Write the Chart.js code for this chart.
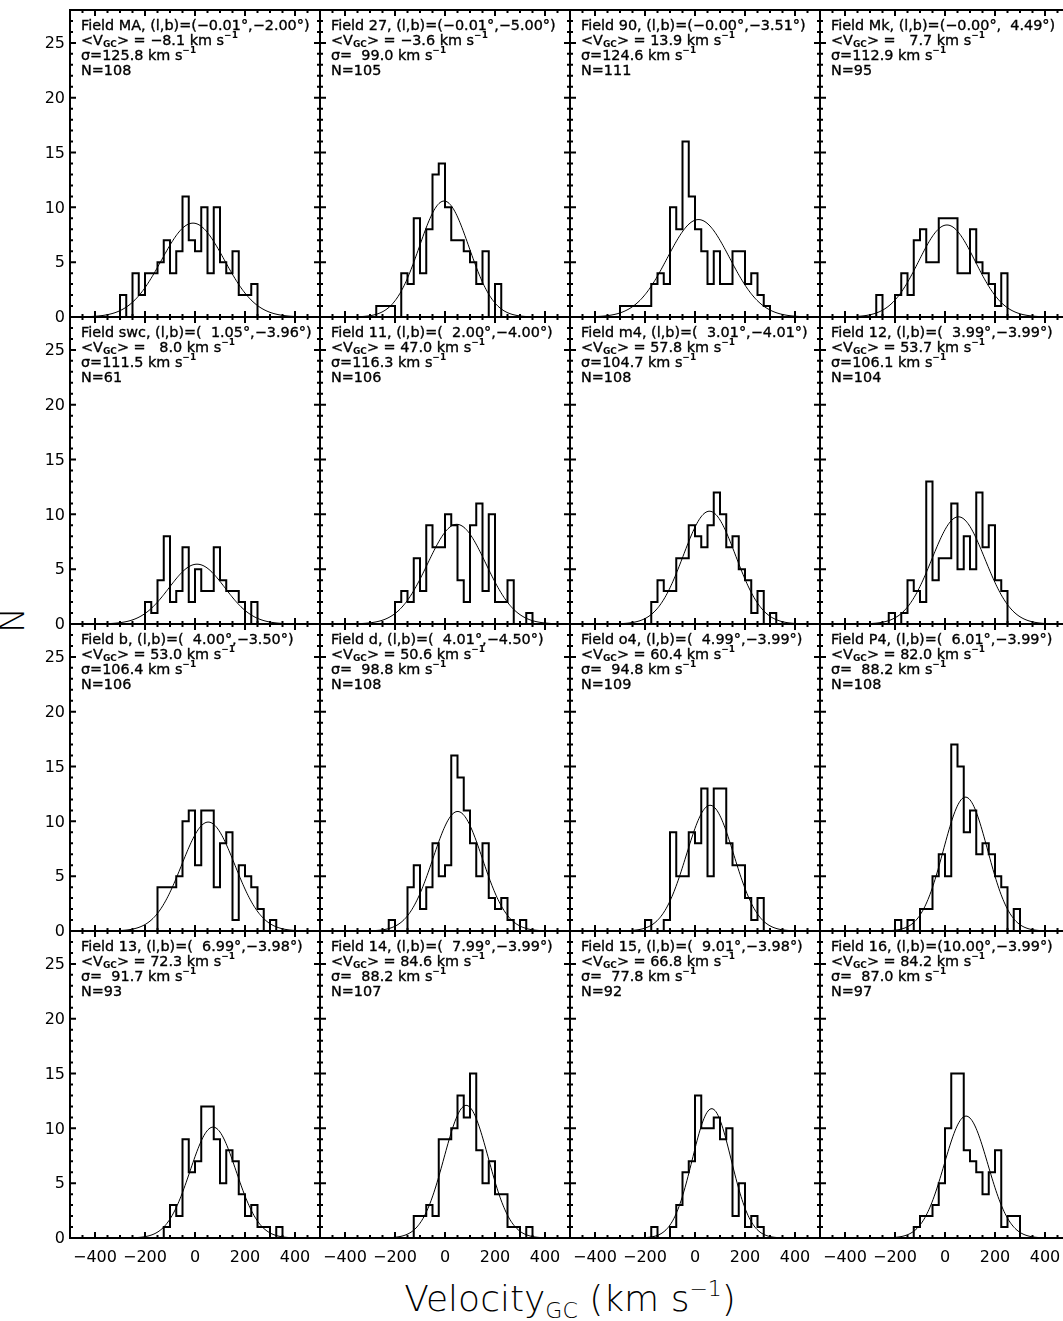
<!DOCTYPE html>
<html>
<head>
<meta charset="utf-8">
<script src="https://cdn.jsdelivr.net/npm/chart.js@4.4.1/dist/chart.umd.min.js"></script>
<style>
  html, body { margin: 0; padding: 0; background: #fff; overflow: hidden; }
  #page { position: relative; width: 1063px; height: 1321px; overflow: hidden; background: #fff; }
  #page canvas { position: absolute; }
  #ytitle { position: absolute; left: -8px; top: 600px; width: 40px; text-align: center;
            font: 200 34px "DejaVu Sans"; transform: rotate(-90deg); }
  #xtitle { position: absolute; left: 70px; width: 1000px; top: 1276px; text-align: center;
            font: 200 36px "DejaVu Sans"; white-space: nowrap; }
  #xtitle sub { font-size: 22px; vertical-align: -7px; }
  #xtitle sup { font-size: 22px; vertical-align: 15px; }
</style>
</head>
<body>
<div id="page">
  <div id="ytitle">N</div>
  <div id="xtitle">Velocity<sub>GC</sub> (km s<sup>−1</sup>)</div>
</div>
<script>
// fields, in reading order (4 x 4 grid)
const fieldNames = ['MA', '27', '90', 'Mk', 'swc', '11', 'm4', '12', 'b', 'd', 'o4', 'P4', '13', '14', '15', '16'];
const galL = ['-0.01', '-0.01', '-0.00', '-0.00', ' 1.05', ' 2.00', ' 3.01', ' 3.99',
              ' 4.00', ' 4.01', ' 4.99', ' 6.01', ' 6.99', ' 7.99', ' 9.01', '10.00'];
const galB = ['-2.00', '-5.00', '-3.51', ' 4.49', '-3.96', '-4.00', '-4.01', '-3.99',
              '-3.50', '-4.50', '-3.99', '-3.99', '-3.98', '-3.99', '-3.98', '-3.99'];
const meanV = [-8.1, -3.6, 13.9, 7.7, 8.0, 47.0, 57.8, 53.7, 53.0, 50.6, 60.4, 82.0, 72.3, 84.6, 66.8, 84.2];
const sigmaV = [125.8, 99.0, 124.6, 112.9, 111.5, 116.3, 104.7, 106.1, 106.4, 98.8, 94.8, 88.2, 91.7, 88.2, 77.8, 87.0];
const nStars = [108, 105, 111, 95, 61, 106, 108, 104, 106, 108, 109, 108, 93, 107, 92, 97];

// histograms: 25 km/s bins, starting at firstBin
const binWidth = 25;
const firstBin = [-300, -275, -300, -275, -200, -200, -175, -225, -150, -225, -200, -200, -125, -125, -175, -125];
const counts = [
  [2, 0, 4, 2, 4, 4, 5, 7, 4, 6, 11, 7, 6, 10, 4, 10, 5, 4, 6, 2, 2, 3],
  [1, 1, 1, 0, 4, 3, 9, 4, 8, 13, 14, 10, 7, 7, 6, 5, 3, 6, 0, 3],
  [1, 1, 1, 1, 1, 3, 4, 3, 10, 8, 16, 11, 8, 6, 3, 6, 3, 3, 6, 6, 3, 4, 2, 1],
  [2, 0, 0, 2, 4, 2, 7, 8, 5, 5, 9, 9, 9, 4, 4, 8, 5, 4, 3, 1, 4],
  [2, 1, 4, 8, 2, 3, 7, 2, 5, 3, 3, 7, 4, 3, 3, 2, 0, 2],
  [2, 3, 2, 6, 3, 9, 7, 7, 10, 9, 4, 2, 9, 11, 3, 10, 2, 2, 4, 0, 0, 1],
  [2, 4, 3, 3, 6, 6, 9, 8, 7, 9, 12, 10, 7, 8, 5, 4, 1, 3, 0, 1],
  [1, 0, 1, 4, 3, 2, 13, 4, 6, 6, 11, 5, 8, 5, 12, 7, 9, 4, 3],
  [4, 4, 4, 5, 10, 11, 6, 11, 11, 4, 8, 9, 1, 6, 5, 4, 2, 0, 1],
  [1, 0, 0, 4, 6, 2, 4, 8, 5, 6, 16, 14, 11, 8, 5, 8, 3, 2, 3, 1, 0, 1],
  [1, 0, 0, 1, 9, 5, 5, 9, 8, 13, 5, 13, 13, 8, 6, 6, 3, 1, 3],
  [1, 0, 1, 0, 2, 2, 5, 7, 5, 17, 15, 9, 11, 7, 8, 7, 5, 4, 0, 2],
  [1, 3, 2, 9, 6, 7, 12, 12, 9, 5, 8, 7, 4, 2, 3, 1, 1, 0, 1],
  [2, 2, 3, 2, 9, 9, 10, 13, 11, 15, 8, 5, 7, 4, 4, 1, 1, 0, 1],
  [1, 0, 0, 1, 3, 6, 7, 13, 10, 10, 11, 9, 10, 2, 5, 1, 2, 1],
  [1, 2, 2, 3, 5, 10, 15, 15, 8, 7, 6, 4, 6, 8, 1, 2, 2]
];

const xTicks = [-400, -200, 0, 200, 400];
const yTicks = [0, 5, 10, 15, 20, 25];

// grid geometry
const colLeft = [70, 320, 570, 820];
const rowTop = [10, 317, 624, 931];
const panelW = 250, panelH = 307, pad = 60;

const minus = s => s.replace(/-/g, '\u2212');
const fig = (s, w) => s.padStart(w, '\u2007');

// text runs with IDL-style sub/superscripts; a thin stroke thickens the glyphs a little
function drawRuns(ctx, x, y, runs) {
  ctx.lineWidth = 0.35;
  for (const [txt, kind] of runs) {
    let dy = 0;
    if (kind === 'sub') { ctx.font = 'bold 9px "DejaVu Sans"'; dy = 4; }
    else if (kind === 'sup') { ctx.font = 'bold 9px "DejaVu Sans"'; dy = -5; }
    else ctx.font = '14.4px "DejaVu Sans"';
    ctx.fillText(txt, x, y + dy);
    if (!kind) ctx.strokeText(txt, x, y + dy);
    x += ctx.measureText(txt).width;
  }
}

const panelFrame = {
  id: 'panelFrame',
  afterDraw(chart, args, opts) {
    const { ctx, chartArea: a, scales: { x, y } } = chart;
    const i = opts.idx;
    ctx.save();
    ctx.strokeStyle = '#000';
    ctx.fillStyle = '#000';
    ctx.lineWidth = 2;
    ctx.strokeRect(a.left, a.top, a.right - a.left, a.bottom - a.top);

    // inward ticks on all four sides
    ctx.beginPath();
    for (let v = x.min; v <= x.max; v += 50) {
      const px = x.getPixelForValue(v);
      const len = xTicks.includes(v) ? 6 : 3;
      ctx.moveTo(px, a.bottom); ctx.lineTo(px, a.bottom - len);
      ctx.moveTo(px, a.top); ctx.lineTo(px, a.top + len);
    }
    for (let v = y.min; v <= y.max; v += 1) {
      const py = y.getPixelForValue(v);
      const len = yTicks.includes(v) ? 6 : 3;
      ctx.moveTo(a.left, py); ctx.lineTo(a.left + len, py);
      ctx.moveTo(a.right, py); ctx.lineTo(a.right - len, py);
    }
    ctx.stroke();

    // tick labels on the outer panels only
    ctx.font = '16px "DejaVu Sans"';
    if (opts.yLabels) {
      ctx.textAlign = 'right';
      ctx.textBaseline = 'middle';
      yTicks.forEach(v => ctx.fillText(String(v), a.left - 5, y.getPixelForValue(v) + 1));
    }
    if (opts.xLabels) {
      ctx.textAlign = 'center';
      ctx.textBaseline = 'middle';
      xTicks.forEach(v => ctx.fillText(minus(String(v)), x.getPixelForValue(v), a.bottom + 20));
    }

    // field annotation
    ctx.textAlign = 'left';
    ctx.textBaseline = 'middle';
    const tx = a.left + 11;
    drawRuns(ctx, tx, a.top + 16, [['Field ' + fieldNames[i] + ', (l,b)=(' +
      minus(galL[i]).replace(' ', '\u2007') + '°,' + minus(galB[i]).replace(' ', '\u2007') + '°)']]);
    drawRuns(ctx, tx, a.top + 31, [['<V'], ['GC', 'sub'],
      ['> = ' + fig(minus(meanV[i].toFixed(1)), 4) + ' km s'], ['\u22121', 'sup']]);
    drawRuns(ctx, tx, a.top + 46, [['\u03c3=' + fig(sigmaV[i].toFixed(1), 5) + ' km s'], ['\u22121', 'sup']]);
    drawRuns(ctx, tx, a.top + 61, [['N=' + nStars[i]]]);
    ctx.restore();
  }
};

const page = document.getElementById('page');

for (let i = 0; i < 16; i++) {
  const col = i % 4, row = Math.floor(i / 4);
  const cv = document.createElement('canvas');
  cv.width = panelW + 2 * pad;
  cv.height = panelH + 2 * pad;
  cv.style.left = (colLeft[col] - pad) + 'px';
  cv.style.top = (rowTop[row] - pad) + 'px';
  page.appendChild(cv);

  // step outline of the histogram
  const hist = [{ x: firstBin[i], y: 0 }];
  counts[i].forEach((c, k) => hist.push({ x: firstBin[i] + k * binWidth, y: c }));
  hist.push({ x: firstBin[i] + counts[i].length * binWidth, y: 0 });

  // gaussian fit from the quoted mean, dispersion and N
  const amp = nStars[i] * binWidth / (sigmaV[i] * Math.sqrt(2 * Math.PI));
  const fit = [];
  for (let v = -500; v <= 500; v += 4) {
    fit.push({ x: v, y: amp * Math.exp(-0.5 * Math.pow((v - meanV[i]) / sigmaV[i], 2)) });
  }

  new Chart(cv, {
    type: 'line',
    data: {
      datasets: [
        { data: hist, stepped: true, borderColor: '#000', borderWidth: 2, pointRadius: 0, fill: false },
        { data: fit, borderColor: '#000', borderWidth: 1, pointRadius: 0, fill: false, tension: 0 }
      ]
    },
    options: {
      responsive: false,
      animation: false,
      events: [],
      layout: { padding: pad },
      scales: {
        x: { type: 'linear', min: -500, max: 500, display: false },
        y: { type: 'linear', min: 0, max: 28, display: false }
      },
      plugins: {
        legend: { display: false },
        tooltip: { enabled: false },
        panelFrame: { idx: i, yLabels: col === 0, xLabels: row === 3 }
      }
    },
    plugins: [panelFrame]
  });
}
</script>
</body>
</html>
